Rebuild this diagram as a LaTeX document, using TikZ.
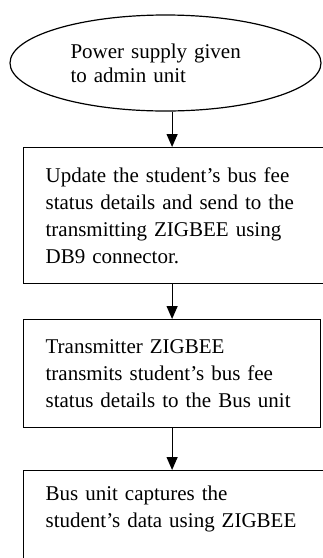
\documentclass[tikz,border=0pt]{standalone}
\usepackage{fontspec}
\setmainfont{Liberation Serif}
\usetikzlibrary{shapes.geometric,arrows.meta}
\begin{document}
\begin{tikzpicture}[x=1pt,y=-1pt,
  outline/.style={draw=black,line width=1.2pt},
  startnode/.style={ellipse,outline,minimum width=311pt,minimum height=96pt,inner sep=0pt,
    text width=190pt,align=left,font=\fontsize{21}{24}\selectfont},
  stepbox/.style={rectangle,outline,anchor=north west,inner xsep=22pt,inner ysep=0pt,
    text width=#1,align=left,font=\fontsize{21}{27}\selectfont},
  flow/.style={outline,-{Triangle[length=13pt,width=11pt]}}]
\useasboundingbox (0,0) rectangle (323,558);
\clip (0,0) rectangle (323,558);
\node[startnode] (power) at (165.5,63) {Power supply given\\to admin unit};
\node[stepbox=268pt,minimum height=136pt] (update) at (23,147) {Update the student’s bus fee\\status details and send to the\\transmitting ZIGBEE using\\DB9 connector.};
\node[stepbox=253pt,minimum height=108pt] (trans) at (23,319) {Transmitter ZIGBEE\\transmits student’s bus fee\\status details to the Bus unit};
\node[stepbox=263pt,inner ysep=15pt] (bus) at (23,470) {Bus unit captures the\\student’s data using ZIGBEE\\[60pt]\mbox{}};
\draw[flow] (power.south -| trans.north) -- (update.north -| trans.north);
\draw[flow] (update.south -| trans.north) -- (trans.north);
\draw[flow] (trans.south) -- (bus.north -| trans.south);
\end{tikzpicture}
\end{document}
